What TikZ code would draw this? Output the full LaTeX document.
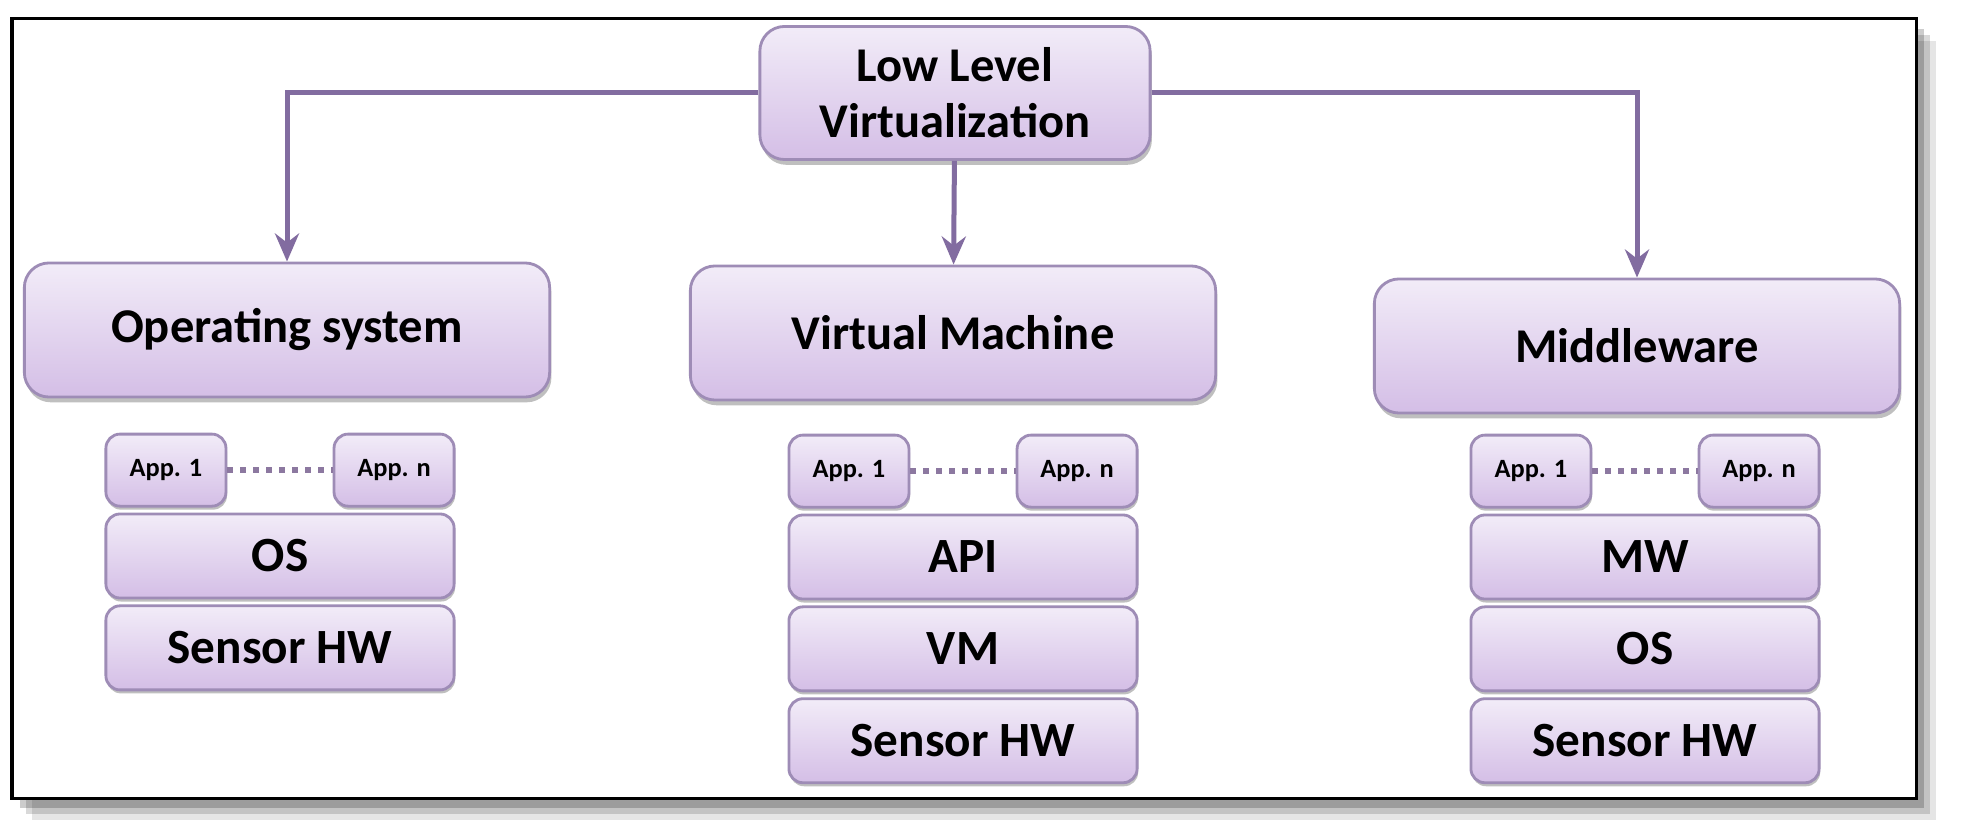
\documentclass[tikz,border=0pt]{standalone}
\usepackage{fontspec}
\setmainfont{Carlito}
\usetikzlibrary{arrows.meta, positioning, shadows}
\definecolor{llvborder}{RGB}{158,140,182}
\definecolor{llvtop}{RGB}{242,236,248}
\definecolor{llvbot}{RGB}{212,190,230}
\definecolor{llvarrow}{RGB}{130,108,160}
\definecolor{llvdots}{RGB}{140,120,160}

\begin{document}
\begin{tikzpicture}[
    x=0.01cm, y=-0.01cm,
    hdr/.style={rectangle, draw=llvborder, thick, rounded corners=7pt,
        top color=llvtop, bottom color=llvbot,
        minimum width=5.25cm, minimum height=1.34cm, text centered,
        font=\fontsize{13.8}{16}\selectfont\bfseries,
        drop shadow={shadow xshift=0.5pt, shadow yshift=-1.5pt, opacity=0.25, fill=black}},
    layer/.style={rectangle, draw=llvborder, thick, rounded corners=4pt,
        top color=llvtop, bottom color=llvbot,
        minimum width=3.48cm, minimum height=0.84cm, text centered,
        font=\fontsize{14}{16}\selectfont\bfseries,
        drop shadow={shadow xshift=0.3pt, shadow yshift=-1pt, opacity=0.25, fill=black}},
    app/.style={rectangle, draw=llvborder, thick, rounded corners=4pt,
        top color=llvtop, bottom color=llvbot,
        minimum width=1.2cm, minimum height=0.72cm, text centered,
        font=\fontsize{7.5}{9}\selectfont\bfseries,
        drop shadow={shadow xshift=0.3pt, shadow yshift=-1pt, opacity=0.25, fill=black}},
    arrow/.style={-{Stealth[length=0.28cm, width=0.24cm]}, line width=0.05cm, color=llvarrow},
    dots/.style={line width=0.055cm, dash pattern=on 0.055cm off 0.075cm, color=llvdots}
]
\useasboundingbox (0,0) rectangle (1961,831);

% frame, with a soft shadow
\draw[line width=0.03cm, fill=white,
      drop shadow={shadow xshift=0.20cm, shadow yshift=-0.22cm, opacity=0.10, fill=black},
      drop shadow={shadow xshift=0.14cm, shadow yshift=-0.16cm, opacity=0.15, fill=black},
      drop shadow={shadow xshift=0.08cm, shadow yshift=-0.10cm, opacity=0.20, fill=black}]
      (12,19) rectangle (1916,798);

% top level
\node[hdr, minimum width=3.9cm, minimum height=1.33cm, align=center] (llv) at (955,93)
    {Low Level\\Virtualization};

% three kinds
\node[hdr] (os) at (287,330) {Operating system};
\node[hdr] (vm) at (953,333) {Virtual Machine};
\node[hdr] (mw) at (1637,346) {Middleware};

\draw[arrow] (llv.west) -| (os.north);
\draw[arrow] (llv) -- (vm);
\draw[arrow] (llv.east) -| (mw.north);

% operating system stack
\node[layer] (osOS) at (280,556) {OS};
\node[layer, below=0.05cm of osOS] (osHW) {Sensor HW};
\node[app, above=0.05cm of osOS.north west, anchor=south west] (osApp1) {App. 1};
\node[app, above=0.05cm of osOS.north east, anchor=south east] (osAppN) {App. n};
\draw[dots] (osApp1) -- (osAppN);

% virtual machine stack
\node[layer] (vmAPI) at (963,557) {API};
\node[layer, below=0.05cm of vmAPI] (vmVM) {VM};
\node[layer, below=0.05cm of vmVM]  (vmHW) {Sensor HW};
\node[app, above=0.05cm of vmAPI.north west, anchor=south west] (vmApp1) {App. 1};
\node[app, above=0.05cm of vmAPI.north east, anchor=south east] (vmAppN) {App. n};
\draw[dots] (vmApp1) -- (vmAppN);

% middleware stack
\node[layer] (mwMW) at (1645,557) {MW};
\node[layer, below=0.05cm of mwMW] (mwOS) {OS};
\node[layer, below=0.05cm of mwOS] (mwHW) {Sensor HW};
\node[app, above=0.05cm of mwMW.north west, anchor=south west] (mwApp1) {App. 1};
\node[app, above=0.05cm of mwMW.north east, anchor=south east] (mwAppN) {App. n};
\draw[dots] (mwApp1) -- (mwAppN);
\end{tikzpicture}
\end{document}
